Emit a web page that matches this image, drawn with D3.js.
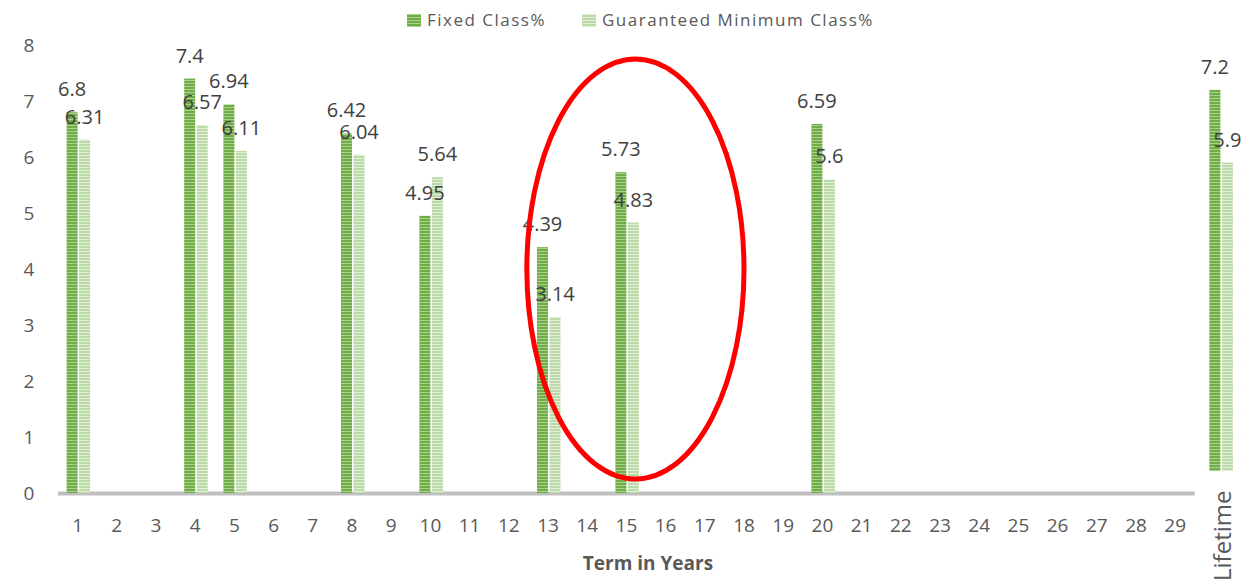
<!DOCTYPE html>
<html>
<head>
<meta charset="utf-8">
<script src="https://cdn.jsdelivr.net/npm/d3@7"></script>
<style>
  body { margin: 0; background: #fff; }
  svg { display: block; font-family: "Open Sans", sans-serif; }
</style>
</head>
<body>
<script>
// Categories on the x axis (terms in years, then Lifetime)
const terms = d3.range(1, 30).map(String).concat(["Lifetime"]);
// Series values, keyed by term
const fixedTerms = ["1","4","5","8","10","13","15","20","Lifetime"];
const fixedValues = [6.8, 7.4, 6.94, 6.42, 4.95, 4.39, 5.73, 6.59, 7.2];
const guarValues = [6.31, 6.57, 6.11, 6.04, 5.64, 3.14, 4.83, 5.6, 5.9];
const yTicks = [0, 1, 2, 3, 4, 5, 6, 7, 8];
const seriesNames = ["Fixed Class%", "Guaranteed Minimum Class%"];

const width = 1260, height = 582;

const svg = d3.select("body").append("svg")
    .attr("width", width)
    .attr("height", height);

// Striped fills like the original bars
const defs = svg.append("defs");
function stripe(id, base, light) {
    let p = defs.append("pattern")
        .attr("id", id)
        .attr("patternUnits", "userSpaceOnUse")
        .attr("width", 4).attr("height", 3);
    p.append("rect").attr("width", 4).attr("height", 3).attr("fill", base);
    p.append("rect").attr("y", 2).attr("width", 4).attr("height", 1).attr("fill", light);
}
stripe("fixedStripe", "#70ad47", "#a9d18e");
stripe("guarStripe", "#bcd9a8", "#e2efda");

// Scales
const x = d3.scaleBand()
    .domain(terms)
    .range([58, 58 + 39.2 * terms.length])
    .padding(0);

const y = d3.scaleLinear()
    .domain([0, 8])
    .range([493, 45]);

const barW = 11;
const barGap = 1.5;
// the Lifetime group sits a little right of and above the axis in the original
const lifeShiftX = 6, lifeShiftY = 22;

function center(t) {
    return x(t) + x.bandwidth() / 2 + (t === "Lifetime" ? lifeShiftX : 0);
}
function base(t) {
    return y(0) - (t === "Lifetime" ? lifeShiftY : 0);
}

// Y axis labels (no line, no grid)
svg.append("g")
    .selectAll("text")
    .data(yTicks)
    .enter().append("text")
    .attr("x", 29)
    .attr("y", d => y(d))
    .attr("dy", "0.35em")
    .attr("text-anchor", "middle")
    .attr("fill", "#595959")
    .style("font-size", "19px")
    .text(d => d);

// X axis line, up to the end of term 29
svg.append("line")
    .attr("x1", x("1"))
    .attr("x2", x("29") + x.bandwidth())
    .attr("y1", y(0) + 0.5)
    .attr("y2", y(0) + 0.5)
    .attr("stroke", "#bfbfbf")
    .attr("stroke-width", 4);

// X tick labels
svg.append("g")
    .selectAll("text")
    .data(terms.filter(t => t !== "Lifetime"))
    .enter().append("text")
    .attr("x", d => center(d))
    .attr("y", 525)
    .attr("dy", "0.35em")
    .attr("text-anchor", "middle")
    .attr("fill", "#595959")
    .style("font-size", "19px")
    .text(d => d);

svg.append("text")
    .attr("transform", "translate(" + (center("Lifetime") + 2) + ",581) rotate(-90)")
    .attr("dy", "0.35em")
    .attr("text-anchor", "start")
    .attr("fill", "#595959")
    .style("font-size", "24px")
    .text("Lifetime");

// Axis title
svg.append("text")
    .attr("x", 648)
    .attr("y", 563)
    .attr("dy", "0.35em")
    .attr("text-anchor", "middle")
    .attr("fill", "#595959")
    .style("font-size", "19px")
    .style("font-weight", "bold")
    .text("Term in Years");

// Bars
const fixedData = fixedTerms.map((t, i) => ({term: t, value: fixedValues[i]}));
const guarData = fixedTerms.map((t, i) => ({term: t, value: guarValues[i]}));

svg.append("g").selectAll("rect")
    .data(fixedData)
    .enter().append("rect")
    .attr("x", d => center(d.term) - barW)
    .attr("y", d => y(d.value))
    .attr("width", barW)
    .attr("height", d => base(d.term) - y(d.value))
    .attr("fill", "url(#fixedStripe)");

svg.append("g").selectAll("rect")
    .data(guarData)
    .enter().append("rect")
    .attr("x", d => center(d.term) + barGap)
    .attr("y", d => y(d.value))
    .attr("width", barW)
    .attr("height", d => base(d.term) - y(d.value))
    .attr("fill", "url(#guarStripe)");

// Data labels above each bar
function labels(data, offset) {
    svg.append("g").selectAll("text")
        .data(data)
        .enter().append("text")
        .attr("x", d => center(d.term) + offset)
        .attr("y", d => y(d.value) - 23)
        .attr("dy", "0.35em")
        .attr("text-anchor", "middle")
        .attr("fill", "#404040")
        .style("font-size", "20px")
        .text(d => d.value);
}
labels(fixedData, -barW / 2);
labels(guarData, barGap + barW / 2);

// Legend
const legend = svg.append("g");
const legendX = [407, 582];
const legendFill = ["url(#fixedStripe)", "url(#guarStripe)"];
seriesNames.forEach(function(name, i) {
    legend.append("rect")
        .attr("x", legendX[i])
        .attr("y", 14)
        .attr("width", 14)
        .attr("height", 13)
        .attr("fill", legendFill[i]);
    legend.append("text")
        .attr("x", legendX[i] + 20)
        .attr("y", 20)
        .attr("dy", "0.35em")
        .attr("fill", "#595959")
        .style("font-size", "17px")
        .style("letter-spacing", "1.5px")
        .text(name);
});

// Red ellipse highlighting terms 13-15
svg.append("ellipse")
    .attr("cx", center("15") + x.step() * 0.23)
    .attr("cy", y(4))
    .attr("rx", x.step() * 2.77)
    .attr("ry", y(0) - y(3.75))
    .attr("fill", "none")
    .attr("stroke", "#ff0000")
    .attr("stroke-width", 5);
</script>
</body>
</html>
